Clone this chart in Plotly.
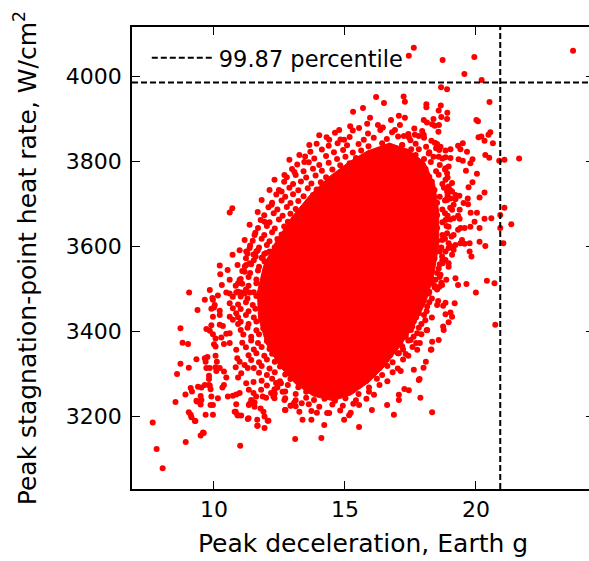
import plotly.graph_objects as go

# ---- data ----
# fully overlapped, solid core of the Monte Carlo cloud (outline)
core_x = [16.68, 17.44, 18.05, 18.43, 18.58, 18.58, 18.39, 18.09, 17.63, 17.06, 16.53, 15.92, 15.24, 14.55,
          13.79, 13.11, 12.50, 12.00, 11.70, 11.66, 11.89, 12.35, 12.95, 13.64, 14.40, 15.16, 15.92]
core_y = [3844, 3827, 3797, 3745, 3681, 3603, 3532, 3469, 3412, 3361, 3318, 3280, 3250, 3236,
          3247, 3276, 3318, 3370, 3431, 3492, 3553, 3610, 3667, 3719, 3764, 3799, 3827]

# individually visible samples (sparse outer scatter)
outer = [
    (17.63, 4068), (17.44, 4049), (18.73, 4039), (19.94, 4046), (23.71, 4061), (19.56, 4006), (20.22, 3992),
    (18.67, 3975), (18.90, 3970), (17.24, 3953), (17.29, 3941), (20.52, 3940), (18.11, 3935), (18.11, 3928),
    (18.66, 3932), (18.58, 3920), (18.91, 3915), (18.68, 3905), (18.90, 3900), (17.29, 3903), (17.06, 3908),
    (18.01, 3898), (18.13, 3892), (18.38, 3900), (18.33, 3888), (18.43, 3884), (18.59, 3886), (20.02, 3898),
    (20.08, 3895), (18.57, 3870), (20.55, 3869), (20.48, 3863), (20.10, 3857), (20.21, 3859), (17.44, 3857),
    (17.67, 3863), (17.82, 3860), (18.01, 3863), (17.25, 3860), (20.33, 3849), (20.65, 3843), (17.19, 3839),
    (17.53, 3829), (18.43, 3844), (18.48, 3831), (18.65, 3835), (19.32, 3837), (19.50, 3843), (19.41, 3829),
    (19.66, 3823), (19.03, 3829), (18.84, 3826), (18.20, 3819), (17.70, 3815), (20.36, 3815), (20.51, 3809),
    (20.89, 3802), (21.09, 3804), (21.65, 3807), (19.34, 3805), (19.50, 3802), (19.87, 3805), (19.79, 3796),
    (19.03, 3808), (18.84, 3810), (18.58, 3811), (18.84, 3784), (18.96, 3788), (19.62, 3778), (20.04, 3771),
    (19.09, 3749), (18.96, 3733), (18.90, 3729), (19.87, 3751), (19.72, 3739), (20.33, 3727), (20.14, 3715),
    (19.37, 3719), (19.22, 3711), (19.69, 3713), (18.90, 3713), (19.53, 3702), (19.70, 3699), (19.09, 3686),
    (19.38, 3686), (19.80, 3679), (20.04, 3679), (21.09, 3691), (20.93, 3674), (20.59, 3666), (20.33, 3665),
    (18.92, 3672), (19.15, 3666), (19.32, 3672), (19.38, 3665), (19.95, 3658), (19.79, 3646), (20.14, 3643),
    (19.57, 3643), (19.41, 3643), (19.32, 3639), (21.35, 3652), (20.93, 3643), (19.07, 3623), (19.47, 3615),
    (19.57, 3606), (19.76, 3607), (20.14, 3611), (20.36, 3601), (21.05, 3607), (19.22, 3603), (19.41, 3607),
    (18.96, 3596), (19.15, 3592), (19.76, 3588), (19.83, 3576), (19.09, 3580), (18.84, 3568), (18.96, 3552),
    (18.73, 3560), (19.22, 3525), (18.87, 3521), (19.32, 3509), (19.64, 3511), (18.61, 3505), (18.43, 3503),
    (18.68, 3514), (20.42, 3519), (20.71, 3513), (20.00, 3491), (18.56, 3471), (18.84, 3467), (19.19, 3466),
    (18.75, 3460), (19.03, 3444), (19.09, 3434), (18.84, 3440), (20.74, 3415), (18.75, 3411), (18.33, 3375),
    (18.30, 3357), (17.86, 3372), (17.76, 3356), (17.32, 3346), (18.00, 3314), (17.85, 3287), (17.27, 3264),
    (17.88, 3243), (17.13, 3306), (18.33, 3209), (17.06, 3238),
    (18.90, 3772), (18.84, 3757), (18.96, 3741), (19.09, 3729), (18.90, 3709), (19.03, 3713), (19.22, 3721),
    (19.15, 3698), (18.84, 3662), (18.96, 3646), (18.90, 3631), (19.15, 3627), (18.71, 3615), (18.96, 3607),
    (18.84, 3588), (18.71, 3576), (18.96, 3560), (18.58, 3548), (18.65, 3533), (18.46, 3521), (18.33, 3513),
    (18.71, 3509), (18.20, 3489), (17.95, 3474), (18.14, 3458), (17.82, 3442), (18.07, 3426), (17.63, 3426),
    (17.57, 3411), (18.14, 3403), (17.76, 3395), (17.32, 3387), (17.51, 3379), (17.19, 3364), (17.06, 3348),
    (7.66, 3185), (7.81, 3122), (8.04, 3077), (8.92, 3139), (9.49, 3154), (9.61, 3160), (9.29, 3188),
    (9.04, 3209), (9.11, 3203), (9.14, 3197), (9.49, 3227), (9.35, 3234), (8.53, 3233), (9.68, 3203),
    (9.96, 3203), (9.96, 3226), (10.79, 3210), (10.91, 3201), (11.04, 3201), (10.85, 3228), (11.29, 3193),
    (11.00, 3130), (11.36, 3229), (11.46, 3234), (11.55, 3232), (11.65, 3191), (11.65, 3177), (11.89, 3210),
    (11.93, 3199), (12.08, 3189), (11.93, 3172), (12.73, 3214), (12.92, 3224), (13.05, 3229), (13.35, 3230),
    (13.10, 3146), (13.38, 3191), (13.93, 3208), (9.05, 3491), (8.72, 3407), (8.80, 3373), (9.01, 3370),
    (8.72, 3323), (9.04, 3314), (8.59, 3299), (9.33, 3334), (8.91, 3251), (9.11, 3266), (9.16, 3258),
    (9.27, 3188), (9.39, 3269), (9.52, 3267), (9.65, 3273), (9.80, 3273), (9.49, 3247), (9.52, 3238),
    (9.33, 3236), (9.90, 3246), (9.87, 3226), (9.58, 3161), (10.15, 3242), (9.81, 3287), (9.84, 3272),
    (9.87, 3263), (9.65, 3336), (9.75, 3339), (9.68, 3328), (9.84, 3313), (9.71, 3313), (10.06, 3342),
    (10.11, 3328), (10.06, 3315), (10.22, 3313), (10.09, 3306), (9.81, 3295), (10.38, 3305), (10.47, 3291),
    (10.38, 3273), (10.32, 3267), (10.06, 3364), (10.00, 3369), (9.71, 3405), (9.84, 3401), (9.90, 3414),
    (9.96, 3393), (10.06, 3383), (9.96, 3434), (9.90, 3453), (9.94, 3478), (9.96, 3474), (10.15, 3484),
    (10.00, 3456), (10.22, 3448), (10.22, 3555), (10.24, 3534), (10.22, 3415), (10.34, 3412), (10.28, 3385),
    (10.47, 3394), (10.38, 3370), (10.53, 3246), (10.72, 3248), (10.85, 3251), (10.98, 3254), (10.83, 3210),
    (10.89, 3203), (11.32, 3195), (11.67, 3177), (12.05, 3189), (12.27, 3246), (12.71, 3214), (12.94, 3225),
    (13.07, 3232), (11.23, 3556), (11.17, 3540), (11.36, 3560), (11.59, 3576), (11.51, 3581), (11.23, 3588),
    (11.67, 3590), (11.86, 3572), (11.93, 3564), (11.99, 3584), (12.12, 3588), (10.92, 3513), (10.83, 3507),
    (10.98, 3521), (10.60, 3489), (10.47, 3491), (10.85, 3491), (10.72, 3481), (11.04, 3491), (11.17, 3489),
    (11.36, 3491), (10.60, 3466), (10.72, 3454), (10.85, 3442), (10.60, 3434), (10.72, 3427), (10.92, 3417),
    (10.60, 3395), (10.60, 3372), (10.85, 3356), (10.89, 3336), (10.98, 3328), (10.83, 3315), (11.04, 3301),
    (10.92, 3291), (11.17, 3320), (11.29, 3313), (11.23, 3277), (11.51, 3280), (11.33, 3262), (11.51, 3254),
    (11.61, 3246), (11.80, 3262), (11.86, 3246), (11.99, 3243), (12.18, 3254), (12.31, 3263), (11.42, 3238),
    (11.33, 3226), (11.55, 3222), (11.78, 3218), (12.37, 3278), (12.56, 3277), (12.62, 3257),
    (16.19, 3952), (16.49, 3938), (15.31, 3917), (15.69, 3926), (15.96, 3903), (16.26, 3886), (16.76, 3898),
    (16.91, 3874), (15.54, 3879), (14.78, 3874), (14.40, 3851), (14.02, 3862), (14.97, 3851), (13.64, 3839),
    (13.26, 3815), (12.88, 3804), (13.45, 3799), (12.69, 3768), (13.07, 3775), (12.31, 3757), (12.12, 3733),
    (12.58, 3729), (11.82, 3709), (12.20, 3698), (11.67, 3681), (11.93, 3658), (11.36, 3651), (11.55, 3627),
    (11.17, 3615), (10.98, 3591), (11.36, 3596), (10.71, 3580), (10.90, 3556), (10.52, 3544), (10.60, 3521),
    (10.30, 3509), (9.84, 3497), (9.65, 3474), (10.03, 3462), (9.37, 3450), (10.22, 3438), (10.70, 3690),
    (10.60, 3680),
    (14.40, 3207), (14.97, 3191), (15.54, 3174), (16.03, 3214), (16.61, 3226), (17.06, 3250), (17.44, 3261),
    (16.87, 3203), (15.16, 3202), (14.21, 3179), (14.10, 3148), (13.72, 3191), (13.26, 3210), (12.69, 3238),
    (12.31, 3242), (15.54, 3226), (16.11, 3250), (17.82, 3285), (17.63, 3309), (18.09, 3328), (18.28, 3356),
    (18.58, 3379), (18.77, 3403), (18.96, 3421),
]

# samples crowding the edge of the solid core
edge = [
    (15.2, 3883), (15.85, 3889), (16.45, 3880), (17.1, 3886), (17.65, 3878),
    (14.62, 3868), (15.3, 3873), (15.88, 3866), (16.35, 3874), (16.8, 3869), (17.42, 3865), (17.95, 3872),
    (14.3, 3857), (14.83, 3852), (15.18, 3858), (15.72, 3851), (16.1, 3856), (16.6, 3853), (17.03, 3859),
    (17.5, 3850), (18.02, 3856), (18.3, 3849),
    (13.92, 3842), (14.38, 3837), (14.72, 3843), (15.08, 3838), (15.52, 3841), (15.9, 3836), (16.42, 3843),
    (17.18, 3838), (17.7, 3842), (18.1, 3835), (18.52, 3841),
    (13.68, 3823), (14.12, 3828), (14.58, 3822), (14.93, 3827), (15.3, 3821), (15.62, 3826), (17.33, 3824),
    (17.82, 3829), (18.22, 3822), (18.6, 3827),
    (13.48, 3812), (13.83, 3807), (14.28, 3813), (14.7, 3806), (15.02, 3811), (15.42, 3808), (17.58, 3812),
    (18.02, 3806), (18.38, 3811), (18.72, 3807),
    (13.18, 3793), (13.62, 3798), (14.02, 3792), (14.38, 3797), (14.82, 3791), (15.18, 3796), (17.88, 3794),
    (18.28, 3799), (18.62, 3792),
    (12.98, 3782), (13.42, 3777), (13.78, 3783), (14.12, 3778), (14.52, 3781), (14.92, 3776), (18.08, 3782),
    (18.48, 3777), (18.82, 3781),
    (12.78, 3763), (13.12, 3768), (13.52, 3762), (13.88, 3767), (14.28, 3763), (14.72, 3768), (18.22, 3764),
    (18.58, 3769), (18.92, 3762),
    (12.68, 3752), (13.02, 3747), (13.32, 3753), (13.72, 3748), (14.08, 3751), (14.48, 3746), (18.32, 3752),
    (18.72, 3747),
    (12.48, 3733), (12.88, 3738), (13.22, 3732), (13.58, 3737), (13.92, 3734), (14.28, 3739), (18.42, 3733),
    (18.78, 3738), (19.02, 3732),
    (12.38, 3722), (12.72, 3717), (13.02, 3723), (13.42, 3718), (13.78, 3721), (14.12, 3716), (18.32, 3722),
    (18.62, 3717), (18.92, 3721),
    (12.22, 3703), (12.58, 3708), (12.92, 3702), (13.22, 3707), (13.58, 3704), (13.92, 3709), (18.52, 3703),
    (18.82, 3708),
    (12.08, 3692), (12.42, 3687), (12.78, 3693), (13.12, 3688), (13.48, 3691), (13.82, 3686), (18.42, 3692),
    (18.72, 3687), (19.02, 3691),
    (11.92, 3673), (12.28, 3678), (12.62, 3672), (12.92, 3677), (13.32, 3674), (18.52, 3673), (18.82, 3678),
    (11.78, 3662), (12.12, 3657), (12.48, 3663), (12.82, 3658), (13.18, 3661), (18.42, 3662), (18.72, 3657),
    (19.02, 3663),
    (11.68, 3643), (12.02, 3648), (12.32, 3642), (12.68, 3647), (13.02, 3644), (18.52, 3643), (18.88, 3648),
    (11.58, 3632), (11.92, 3627), (12.22, 3633), (12.58, 3628), (12.92, 3631), (18.42, 3632), (18.72, 3627),
    (11.48, 3613), (11.82, 3618), (12.12, 3612), (12.42, 3617), (12.78, 3614), (18.52, 3613), (18.82, 3618),
    (11.38, 3602), (11.72, 3597), (12.02, 3603), (12.32, 3598), (12.68, 3601), (18.42, 3602), (18.68, 3597),
    (19.02, 3601),
    (11.28, 3583), (11.62, 3588), (11.92, 3582), (12.22, 3587), (12.52, 3584), (18.32, 3583), (18.62, 3588),
    (11.22, 3572), (11.52, 3567), (11.82, 3573), (12.12, 3568), (12.48, 3571), (18.42, 3572), (18.72, 3567),
    (11.18, 3553), (11.42, 3558), (11.72, 3552), (12.02, 3557), (12.38, 3554), (18.32, 3553), (18.62, 3558),
    (11.08, 3542), (11.38, 3537), (11.68, 3543), (12.02, 3538), (12.38, 3541), (18.22, 3542), (18.52, 3537),
    (11.02, 3523), (11.32, 3528), (11.62, 3522), (11.92, 3527), (12.28, 3524), (18.32, 3523), (18.62, 3528),
    (11.08, 3512), (11.32, 3507), (11.62, 3513), (11.88, 3508), (12.22, 3511), (18.12, 3512), (18.42, 3507),
    (10.92, 3493), (11.22, 3498), (11.52, 3492), (11.82, 3497), (12.18, 3494), (18.22, 3493), (18.52, 3498),
    (11.02, 3482), (11.28, 3477), (11.62, 3483), (11.92, 3478), (12.22, 3481), (18.02, 3482), (18.32, 3477),
    (10.92, 3463), (11.22, 3468), (11.48, 3462), (11.82, 3467), (12.12, 3464), (17.92, 3463), (18.22, 3468),
    (18.52, 3462),
    (11.02, 3452), (11.32, 3447), (11.58, 3453), (11.92, 3448), (12.22, 3451), (17.82, 3452), (18.12, 3447),
    (10.92, 3433), (11.22, 3438), (11.52, 3432), (11.82, 3437), (12.18, 3434), (17.72, 3433), (18.02, 3438),
    (18.32, 3432),
    (11.02, 3422), (11.32, 3417), (11.62, 3423), (11.92, 3418), (12.28, 3421), (17.62, 3422), (17.92, 3417),
    (11.02, 3403), (11.28, 3408), (11.62, 3402), (11.88, 3407), (12.28, 3404), (17.52, 3403), (17.82, 3408),
    (18.12, 3402),
    (11.12, 3392), (11.42, 3387), (11.72, 3393), (12.02, 3388), (12.38, 3391), (17.32, 3392), (17.62, 3387),
    (17.92, 3393),
    (11.08, 3373), (11.42, 3378), (11.68, 3372), (12.02, 3377), (12.42, 3374), (17.12, 3373), (17.42, 3378),
    (17.72, 3372),
    (11.22, 3362), (11.52, 3357), (11.82, 3363), (12.12, 3358), (12.52, 3361), (16.92, 3362), (17.22, 3357),
    (17.58, 3363),
    (11.32, 3343), (11.62, 3348), (11.92, 3342), (12.22, 3347), (12.62, 3344), (16.72, 3343), (17.02, 3348),
    (17.42, 3342),
    (11.42, 3332), (11.72, 3327), (12.02, 3333), (12.32, 3328), (12.72, 3331), (16.52, 3332), (16.82, 3327),
    (17.22, 3333),
    (11.52, 3313), (11.82, 3318), (12.12, 3312), (12.52, 3317), (12.92, 3314), (16.32, 3313), (16.62, 3318),
    (17.02, 3312),
    (11.72, 3302), (12.02, 3297), (12.32, 3303), (12.72, 3298), (13.12, 3301), (16.02, 3302), (16.42, 3297),
    (16.82, 3303),
    (11.82, 3283), (12.22, 3288), (12.52, 3282), (12.92, 3287), (13.32, 3284), (15.82, 3283), (16.22, 3288),
    (16.62, 3282),
    (12.02, 3272), (12.42, 3267), (12.82, 3273), (13.22, 3268), (13.62, 3271), (14.02, 3266), (15.52, 3272),
    (15.92, 3267), (16.32, 3273),
    (12.32, 3253), (12.72, 3258), (13.12, 3252), (13.52, 3257), (13.92, 3254), (14.32, 3259), (14.72, 3253),
    (15.12, 3258), (15.52, 3252), (15.92, 3257),
    (12.72, 3242), (13.12, 3237), (13.52, 3243), (13.82, 3238), (14.22, 3241), (14.62, 3236), (15.02, 3242),
    (15.42, 3237), (15.82, 3241),
    (13.12, 3223), (13.62, 3228), (14.02, 3222), (14.52, 3227), (14.92, 3224), (15.32, 3229),
    (13.72, 3212), (14.32, 3207), (14.82, 3213), (15.22, 3208),
]

sample_x = [p[0] for p in outer] + [p[0] for p in edge]
sample_y = [p[1] for p in outer] + [p[1] for p in edge]

pct_decel = 20.93      # 99.87 percentile of peak deceleration, g
pct_heat = 3986        # 99.87 percentile of peak heat rate, W/cm2

x_range = [6.87, 24.51]
y_range = [3028, 4117]
x_ticks = [10, 15, 20]
y_ticks = [3200, 3400, 3600, 3800, 4000]

FONT = "DejaVu Sans"
RED = "#ff0000"

fig = go.Figure()
fig.add_trace(go.Scatter(x=core_x, y=core_y, mode="lines", fill="toself", fillcolor=RED,
                         line=dict(color=RED, width=1), showlegend=False, hoverinfo="skip"))
fig.add_trace(go.Scatter(x=sample_x, y=sample_y, mode="markers",
                         marker=dict(color=RED, size=6, line=dict(width=0)), showlegend=False))
fig.add_trace(go.Scatter(x=[pct_decel, pct_decel], y=y_range, mode="lines",
                         line=dict(color="black", width=2, dash="6px,3px"),
                         name="99.87 percentile", showlegend=True))
fig.add_trace(go.Scatter(x=x_range, y=[pct_heat, pct_heat], mode="lines",
                         line=dict(color="black", width=2, dash="6px,3px"), showlegend=False))

axis_common = dict(showline=True, linecolor="black", linewidth=1.8, mirror="ticks",
                   ticks="inside", ticklen=8, tickwidth=1.3, tickcolor="black",
                   showgrid=False, zeroline=False,
                   tickfont=dict(family=FONT, size=22, color="black"))

fig.update_xaxes(range=x_range, tickvals=x_ticks, title=dict(text="Peak deceleration, Earth g",
                 font=dict(family=FONT, size=25, color="black"), standoff=13), **axis_common)
fig.update_yaxes(range=y_range, tickvals=y_ticks, ticklabelstandoff=4,
                 title=dict(text="Peak stagnation-point heat rate, W/cm<sup>2</sup>",
                            font=dict(family=FONT, size=25, color="black"), standoff=22), **axis_common)

fig.update_layout(
    width=597, height=561,
    margin=dict(l=132, r=1, t=27, b=72, pad=0),
    paper_bgcolor="white", plot_bgcolor="white",
    font=dict(family=FONT, color="black"),
    legend=dict(x=0.032, y=0.979, xanchor="left", yanchor="top", bgcolor="rgba(0,0,0,0)",
                font=dict(family=FONT, size=22.5, color="black"), itemwidth=62),
)

fig.write_html("out.html", post_script=[
    "document.documentElement.style.overflow='hidden';document.body.style.overflow='hidden';document.body.style.margin='0';"
])
